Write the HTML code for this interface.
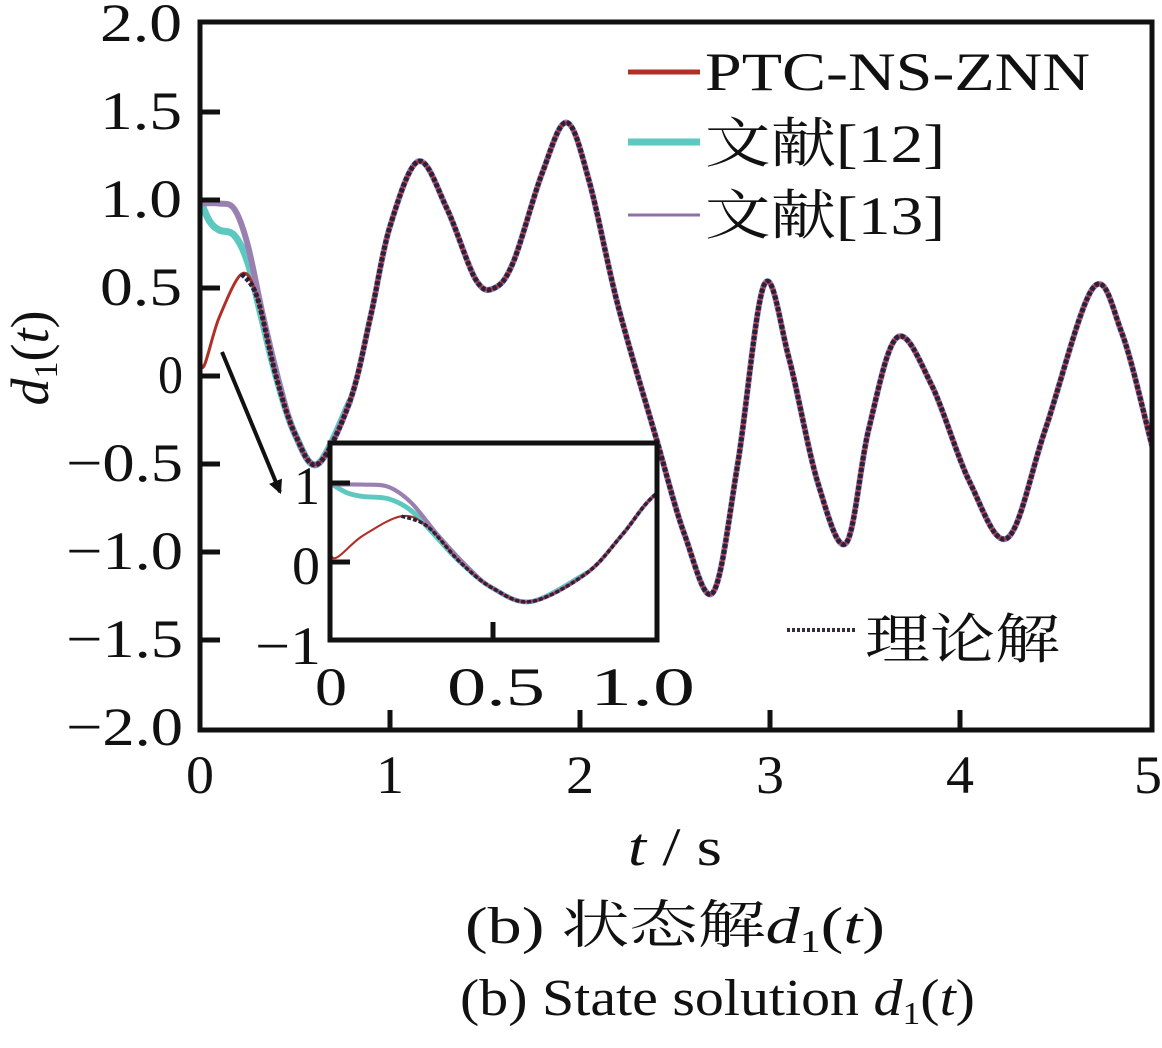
<!DOCTYPE html>
<html><head><meta charset="utf-8"><style>
body{margin:0;background:#fff}
text{font-family:"Liberation Serif","Noto Serif CJK SC",serif;fill:#111}
</style></head><body>
<svg id="s" width="1162" height="1043" xmlns="http://www.w3.org/2000/svg">
<defs>
<clipPath id="cm"><rect x="200" y="22" width="952" height="708"/></clipPath>
<clipPath id="ci"><rect x="330" y="443" width="327" height="197"/></clipPath>
<marker id="ar" markerWidth="14" markerHeight="14" refX="10" refY="6" orient="auto" markerUnits="userSpaceOnUse" viewBox="0 0 12 12"><path d="M0,0 L12,6 L0,12 z" fill="#111"/></marker>
</defs>
<g id="main" clip-path="url(#cm)"></g>
<rect x="200" y="22" width="952" height="708" fill="none" stroke="#111" stroke-width="5"/>
<g stroke="#111" stroke-width="5">
<line x1="200" y1="112" x2="220" y2="112"/><line x1="200" y1="200" x2="220" y2="200"/><line x1="200" y1="288" x2="220" y2="288"/><line x1="200" y1="376" x2="220" y2="376"/><line x1="200" y1="464" x2="220" y2="464"/><line x1="200" y1="552" x2="220" y2="552"/><line x1="200" y1="640" x2="220" y2="640"/>
<line x1="390" y1="730" x2="390" y2="710"/><line x1="580" y1="730" x2="580" y2="710"/><line x1="770" y1="730" x2="770" y2="710"/><line x1="960" y1="730" x2="960" y2="710"/>
</g>
<g font-size="54" lengthAdjust="spacingAndGlyphs">
<text x="100" y="41" textLength="82" lengthAdjust="spacingAndGlyphs">2.0</text>
<text x="100" y="129" textLength="82" lengthAdjust="spacingAndGlyphs">1.5</text>
<text x="100" y="217" textLength="82" lengthAdjust="spacingAndGlyphs">1.0</text>
<text x="100" y="305" textLength="82" lengthAdjust="spacingAndGlyphs">0.5</text>
<text x="158" y="393" textLength="25" lengthAdjust="spacingAndGlyphs">0</text>
<text x="66" y="481" textLength="117" lengthAdjust="spacingAndGlyphs">−0.5</text>
<text x="66" y="569" textLength="117" lengthAdjust="spacingAndGlyphs">−1.0</text>
<text x="66" y="657" textLength="117" lengthAdjust="spacingAndGlyphs">−1.5</text>
<text x="66" y="745" textLength="117" lengthAdjust="spacingAndGlyphs">−2.0</text>
</g>
<g font-size="54">
<text x="186" y="793" textLength="28" lengthAdjust="spacingAndGlyphs">0</text>
<text x="376" y="793" textLength="28" lengthAdjust="spacingAndGlyphs">1</text>
<text x="566" y="793" textLength="28" lengthAdjust="spacingAndGlyphs">2</text>
<text x="756" y="793" textLength="28" lengthAdjust="spacingAndGlyphs">3</text>
<text x="946" y="793" textLength="28" lengthAdjust="spacingAndGlyphs">4</text>
<text x="1134" y="793" textLength="28" lengthAdjust="spacingAndGlyphs">5</text>
</g>
<text x="628" y="865" font-size="54" textLength="94" lengthAdjust="spacingAndGlyphs"><tspan font-style="italic">t</tspan> / s</text>
<text transform="translate(48,358) rotate(-90)" font-size="54" text-anchor="middle"><tspan font-style="italic">d</tspan><tspan font-size="34" dy="9">1</tspan><tspan dy="-9">(</tspan><tspan font-style="italic">t</tspan>)</text>
<!-- inset -->
<rect x="330" y="443" width="327" height="197" fill="#fff" stroke="none"/>
<g id="ins" clip-path="url(#ci)"></g>
<rect x="330" y="443" width="327" height="197" fill="none" stroke="#111" stroke-width="5"/>
<g stroke="#111" stroke-width="5"><line x1="330" y1="483" x2="350" y2="483"/><line x1="330" y1="562" x2="350" y2="562"/><line x1="493" y1="640" x2="493" y2="622"/></g>
<g font-size="54">
<text x="294" y="504" textLength="26" lengthAdjust="spacingAndGlyphs">1</text>
<text x="292" y="584" textLength="28" lengthAdjust="spacingAndGlyphs">0</text>
<text x="255" y="664" textLength="66" lengthAdjust="spacingAndGlyphs">−1</text>
<text x="315" y="705" textLength="32" lengthAdjust="spacingAndGlyphs">0</text>
<text x="447" y="705" textLength="98" lengthAdjust="spacingAndGlyphs">0.5</text>
<text x="590" y="705" textLength="105" lengthAdjust="spacingAndGlyphs">1.0</text>
</g>
<line x1="222" y1="352" x2="280" y2="492" stroke="#111" stroke-width="4" marker-end="url(#ar)"/>
<!-- legend -->
<line x1="628" y1="72" x2="700" y2="72" stroke="#b03028" stroke-width="5"/>
<text x="705" y="90" font-size="54" textLength="385" lengthAdjust="spacingAndGlyphs">PTC-NS-ZNN</text>
<line x1="628" y1="142" x2="700" y2="142" stroke="#5cc8c0" stroke-width="7"/>
<text x="705" y="162" font-size="54" textLength="240" lengthAdjust="spacingAndGlyphs">文献[12]</text>
<line x1="628" y1="215" x2="700" y2="215" stroke="#9070a8" stroke-width="3"/>
<text x="705" y="234" font-size="54" textLength="240" lengthAdjust="spacingAndGlyphs">文献[13]</text>
<line x1="787" y1="630" x2="857" y2="630" stroke="#3a2a40" stroke-width="4" stroke-dasharray="3,2"/>
<text x="865" y="658" font-size="54" textLength="195" lengthAdjust="spacingAndGlyphs">理论解</text>
<text x="465" y="943" font-size="52" textLength="420" lengthAdjust="spacingAndGlyphs">(b)  状态解<tspan font-style="italic">d</tspan><tspan font-size="32" dy="9">1</tspan><tspan dy="-9">(</tspan><tspan font-style="italic">t</tspan>)</text>
<text x="460" y="1015" font-size="52" textLength="515" lengthAdjust="spacingAndGlyphs">(b)  State solution <tspan font-style="italic">d</tspan><tspan font-size="32" dy="9">1</tspan><tspan dy="-9">(</tspan><tspan font-style="italic">t</tspan>)</text>
</svg>
<script>
var th=[[0.22,0.58],[0.3,0.45],[0.4,0.0],[0.5,-0.33],[0.62,-0.5],[0.79,-0.14],[0.9,0.35],[1.0,0.85],[1.15,1.22],[1.3,0.95],[1.45,0.55],[1.55,0.5],[1.65,0.65],[1.8,1.15],[1.93,1.44],[2.05,1.1],[2.2,0.4],[2.4,-0.35],[2.55,-0.9],[2.7,-1.23],[2.83,-0.5],[2.97,0.52],[3.1,0.1],[3.25,-0.6],[3.4,-0.95],[3.52,-0.3],[3.67,0.22],[3.85,-0.05],[4.05,-0.6],[4.25,-0.92],[4.45,-0.3],[4.7,0.5],[4.85,0.25],[5.0,-0.35],[5.1,-0.8]];
var red=[[0,1.0],[0.004,0.5],[0.01,0.05],[0.1,0.33],[0.22,0.58]];
var cy=[[0,1.0],[0.05,0.88],[0.1,0.83],[0.18,0.8],[0.25,0.65],[0.32,0.35],[0.4,0.0]];
var pu=[[0,0.98],[0.1,0.98],[0.18,0.95],[0.25,0.75],[0.33,0.35],[0.42,-0.05],[0.5,-0.33]];
function tail(a,t0,t1){return a.concat(th.filter(function(p){return p[0]>t0&&p[0]<=t1;}));}
function path(pts,fx,fy){var P=pts.map(function(p){return [fx(p[0]),fy(p[1])];});var d="M"+P[0][0]+","+P[0][1];
for(var i=0;i<P.length-1;i++){var p0=P[i-1]||P[i],p1=P[i],p2=P[i+1],p3=P[i+2]||P[i+1];
d+=" C"+(p1[0]+(p2[0]-p0[0])/6)+","+(p1[1]+(p2[1]-p0[1])/6)+" "+(p2[0]-(p3[0]-p1[0])/6)+","+(p2[1]-(p3[1]-p1[1])/6)+" "+p2[0]+","+p2[1];}return d;}
function draw(g,fx,fy,sc){var ns="http://www.w3.org/2000/svg";
function add(pts,col,w,dash){var e=document.createElementNS(ns,"path");e.setAttribute("d",path(pts,fx,fy));e.setAttribute("fill","none");e.setAttribute("stroke",col);e.setAttribute("stroke-width",w);if(dash)e.setAttribute("stroke-dasharray",dash);g.appendChild(e);}
add(tail(cy,0.4,0.8),"#5cc8c0",7*sc);add(tail(pu,0.5,9),"#9a80b0",6*sc);add(tail(red,0.22,9),"#b03028",3*sc);add(th,"#2a2040",5*sc,"4,2");}
draw(document.getElementById("main"),function(t){return 200+190*t},function(v){return 376-176*v},1);
draw(document.getElementById("ins"),function(t){return 330+325*t},function(v){return 562-79*v},0.7);
</script>
</body></html>
